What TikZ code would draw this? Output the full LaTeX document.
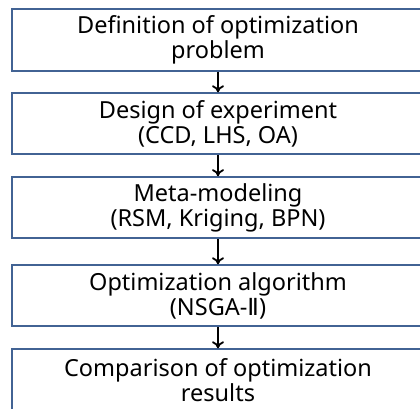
\documentclass[tikz,border=0pt]{standalone}
\usepackage{fontspec}
\setmainfont{Noto Sans}
\newfontfamily\numfont{DejaVu Sans}
\usetikzlibrary{arrows.meta}
\definecolor{boxblue}{RGB}{66,99,148}

\begin{document}
\begin{tikzpicture}[x=1pt,y=1pt,
  stepbox/.style={draw=boxblue,line width=2pt,minimum width=412pt,minimum height=61pt,
    inner sep=0pt,align=center,font=\fontsize{23.5}{25}\selectfont},
  flow/.style={-{To[length=7pt,width=12pt]},line width=1.8pt}]

\useasboundingbox (0,0) rectangle (420,408);
\clip (0,0) rectangle (420,408);

\node[stepbox] (def) at (218,368) {Definition of optimization\\problem};
\node[stepbox] (doe) at (218,284.2) {Design of experiment\\(CCD, LHS, OA)};
\node[stepbox] (meta) at (218,200.3) {Meta-modeling\\(RSM, Kriging, BPN)};
\node[stepbox] (algo) at (218,112.2) {Optimization algorithm\\(NSGA-{\numfont Ⅱ})};
\node[stepbox] (comp) at (218,28.2) {Comparison of optimization\\results};

\foreach \a/\b in {def/doe,doe/meta,meta/algo,algo/comp}
   \draw[flow] (\a.south) -- (\b.north);
\end{tikzpicture}
\end{document}
